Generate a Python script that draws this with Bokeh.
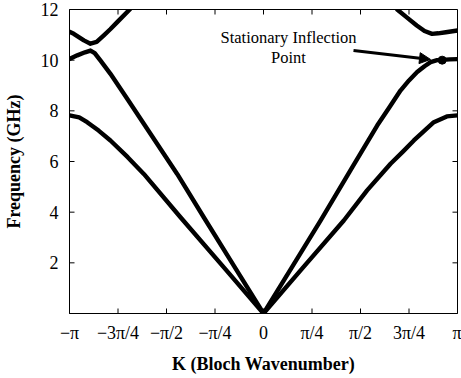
import math
from bokeh.plotting import figure
from bokeh.models import (Range1d, FixedTicker, Label, Arrow, NormalHead)
from bokeh.embed import file_html
from bokeh.resources import INLINE

# K in units of pi, frequency in GHz
k_band1 = [-1.0, -0.95, -0.909, -0.85, -0.789, -0.7, -0.617, -0.428, -0.2, 0.0,
           0.2, 0.414, 0.534, 0.655, 0.72, 0.775, 0.83, 0.878, 0.945, 1.0]
f_band1 = [7.82, 7.74, 7.55, 7.22, 6.83, 6.17, 5.51, 3.8, 1.78, 0.0,
           1.78, 3.67, 4.86, 5.91, 6.4, 6.83, 7.22, 7.55, 7.78, 7.82]

k_band2 = [-1.0, -0.96, -0.92, -0.892, -0.87, -0.84, -0.789, -0.7, -0.617, -0.445, -0.308,
           -0.15, 0.0, 0.15, 0.294, 0.448, 0.586, 0.65, 0.706, 0.75, 0.792, 0.83, 0.861,
           0.895, 0.921, 0.96, 1.0]
f_band2 = [10.05, 10.19, 10.31, 10.38, 10.28, 9.98, 9.46, 8.45, 7.49, 5.51, 3.8,
           1.85, 0.0, 1.87, 3.67, 5.65, 7.42, 8.15, 8.8, 9.2, 9.53, 9.76, 9.92,
           10.0, 10.01, 10.03, 10.04]

k_band3_left = [-1.0, -0.978, -0.95, -0.926, -0.892, -0.86, -0.823, -0.79, -0.754, -0.686]
f_band3_left = [11.12, 11.04, 10.9, 10.78, 10.65, 10.72, 10.98, 11.22, 11.5, 12.03]

k_band3_right = [0.689, 0.74, 0.79, 0.83, 0.869, 0.9, 0.94, 1.0]
f_band3_right = [12.0, 11.68, 11.37, 11.15, 11.04, 11.06, 11.1, 11.17]

inflection_k = [0.921]
inflection_f = [10.0]

x_ticks = [-1.0, -0.75, -0.5, -0.25, 0.0, 0.25, 0.5, 0.75, 1.0]
x_tick_labels = ["\u2212\u03c0", "\u22123\u03c0/4", "\u2212\u03c0/2", "\u2212\u03c0/4", "0",
                 "\u03c0/4", "\u03c0/2", "3\u03c0/4", "\u03c0"]
y_ticks = [2, 4, 6, 8, 10, 12]
x_min, x_max = -1.0, 1.0
y_min, y_max = 0.0, 12.0

FONT = "Liberation Serif"

p = figure(width=461, height=378, output_backend="svg", toolbar_location=None,
           x_range=Range1d(x_min, x_max), y_range=Range1d(y_min, y_max))
p.min_border_left = 69
p.min_border_right = 4
p.min_border_top = 9
p.min_border_bottom = 65
p.background_fill_color = "white"
p.border_fill_color = "white"
p.outline_line_color = "black"
p.outline_line_width = 1
p.grid.visible = False

for k, f in [(k_band1, f_band1), (k_band2, f_band2),
             (k_band3_left, f_band3_left), (k_band3_right, f_band3_right)]:
    p.line(k, f, line_color="black", line_width=4.4, line_join="round", line_cap="round")

p.scatter(inflection_k, inflection_f, size=8, color="black")

xa = p.xaxis[0]
xa.ticker = FixedTicker(ticks=x_ticks)
xa.major_label_overrides = {t: l for t, l in zip(x_ticks, x_tick_labels)}
xa.axis_label = "K (Bloch Wavenumber)"
ya = p.yaxis[0]
ya.ticker = FixedTicker(ticks=y_ticks)
ya.axis_label = "Frequency (GHz)"

for ax in (xa, ya):
    ax.major_tick_in = 0
    ax.major_tick_out = 0
    ax.minor_tick_line_color = None
    ax.major_label_text_font = FONT
    ax.major_label_text_font_size = "18px"
    ax.major_label_text_color = "black"
    ax.axis_label_text_font = FONT
    ax.axis_label_text_font_style = "bold"
    ax.axis_label_text_font_size = "18px"
    ax.axis_label_text_color = "black"
    ax.axis_line_color = "black"
xa.major_label_standoff = 9
xa.axis_label_standoff = 8
ya.major_label_standoff = 11
ya.axis_label_standoff = 14

# inward tick marks on all four frame edges
p.ray(x=x_ticks, y=[y_max] * len(x_ticks), length=5, length_units="screen",
      angle=-math.pi / 2, line_color="black", line_width=1)
p.ray(x=x_ticks, y=[y_min] * len(x_ticks), length=5, length_units="screen",
      angle=math.pi / 2, line_color="black", line_width=1)
p.ray(x=[x_max] * len(y_ticks), y=y_ticks, length=5, length_units="screen",
      angle=math.pi, line_color="black", line_width=1)
p.ray(x=[x_min] * len(y_ticks), y=y_ticks, length=5, length_units="screen",
      angle=0.0, line_color="black", line_width=1)

p.add_layout(Label(x=0.129, y=10.91, text="Stationary Inflection", text_align="center",
                   text_baseline="middle", text_font=FONT, text_font_size="16.5px",
                   text_color="black"))
p.add_layout(Label(x=0.129, y=10.12, text="Point", text_align="center",
                   text_baseline="middle", text_font=FONT, text_font_size="16.5px",
                   text_color="black"))

p.add_layout(Arrow(x_start=0.464, y_start=10.38, x_end=0.861, y_end=10.03,
                   line_width=3, line_color="black",
                   end=NormalHead(size=11, fill_color="black", line_color="black")))

open("out.html", "w").write(file_html(p, INLINE))
